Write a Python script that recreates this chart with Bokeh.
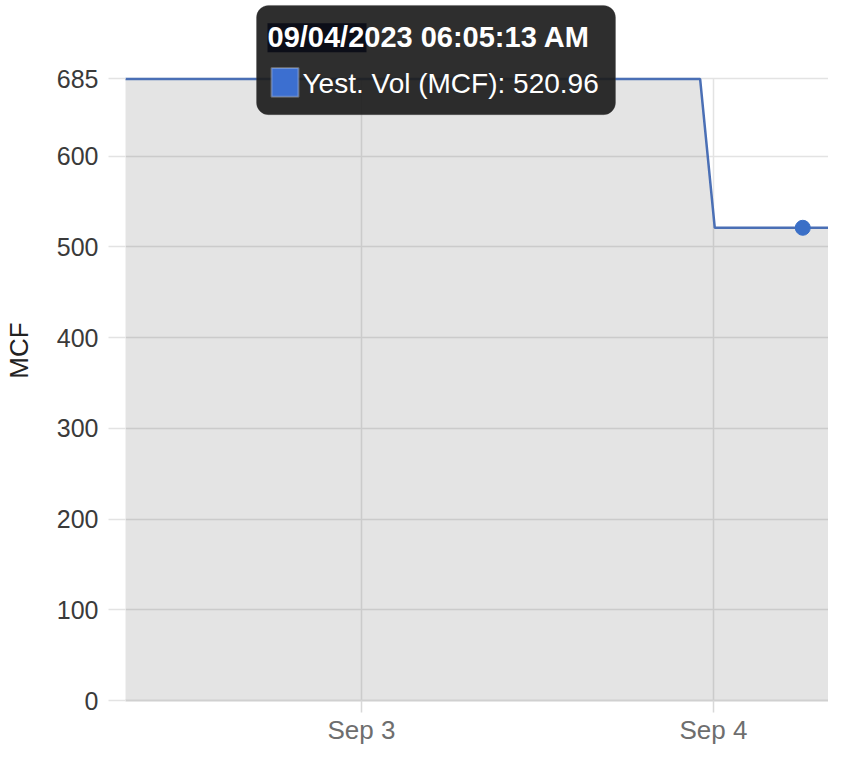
from datetime import datetime, timedelta
from bokeh.plotting import figure
from bokeh.models import Range1d, FixedTicker, DatetimeTickFormatter, BoxAnnotation, Label
from bokeh.embed import file_html
from bokeh.resources import INLINE

# ---- data ----
times = [
    datetime(2023, 9, 2, 6, 5, 13),
    datetime(2023, 9, 3, 6, 5, 13),
    datetime(2023, 9, 3, 23, 5, 13),
    datetime(2023, 9, 4, 0, 5, 13),
    datetime(2023, 9, 4, 6, 5, 13),
    datetime(2023, 9, 4, 10, 5, 13),
]
volumes = [685.0, 685.0, 685.0, 520.96, 520.96, 520.96]
hover_time = datetime(2023, 9, 4, 6, 5, 13)
hover_value = 520.96
y_ticks = [0, 100, 200, 300, 400, 500, 600, 685]
x_tick_dates = [datetime(2023, 9, 3), datetime(2023, 9, 4)]
tooltip_title = "09/04/2023 06:05:13 AM"
tooltip_series = "Yest. Vol (MCF)"

# ---- layout ----
W, H = 828, 747
left_b = 125
px_per_day = 352.0
ppu = (705 - 79) / 685.0
frame_w = W - left_b
bottom_b = H - 705
x0 = datetime(2023, 9, 3) - timedelta(days=(361 - 125) / px_per_day)
x1 = x0 + timedelta(days=frame_w / px_per_day)
y0 = 0
ytop = 705 / ppu

def ms(d):
    return (d - datetime(1970, 1, 1)).total_seconds() * 1000.0

p = figure(width=W, height=H, output_backend="svg", toolbar_location=None,
           x_axis_type="datetime",
           x_range=Range1d(x0, x1), y_range=Range1d(y0, ytop),
           min_border_left=left_b, min_border_top=0,
           min_border_right=0, min_border_bottom=bottom_b)
p.outline_line_color = None
p.background_fill_color = "white"
p.border_fill_color = "white"

p.varea(x=times, y1=[0] * len(times), y2=volumes, fill_color="#000000", fill_alpha=0.105)
# vertical grid lines only up to the top tick
p.segment(x0=x_tick_dates, x1=x_tick_dates, y0=[y_ticks[0]] * 2, y1=[y_ticks[-1]] * 2,
          line_color="#e3e3e3", line_width=1.5, level="underlay")
p.line(x=times, y=volumes, line_color="#4a6fb5", line_width=2.5)
p.scatter(x=[hover_time], y=[hover_value], size=15, fill_color="#3a6fc7", line_color="#3a6fc7")

p.xgrid.grid_line_color = None
p.ygrid.ticker = FixedTicker(ticks=y_ticks)
p.ygrid.grid_line_color = "#e3e3e3"
p.ygrid.grid_line_width = 1.5

ya = p.yaxis[0]
ya.ticker = FixedTicker(ticks=y_ticks)
ya.axis_line_color = None
ya.major_tick_line_color = "#e3e3e3"
ya.major_tick_line_width = 1.5
ya.major_tick_out = 17
ya.major_tick_in = 0
ya.minor_tick_line_color = None
ya.major_label_standoff = 10
ya.major_label_text_font = "Liberation Sans"
ya.major_label_text_font_size = "25px"
ya.major_label_text_color = "#3a3a3a"
ya.axis_label = "MCF"
ya.axis_label_text_font = "Liberation Sans"
ya.axis_label_text_font_size = "26px"
ya.axis_label_text_font_style = "normal"
ya.axis_label_text_color = "#222222"
ya.axis_label_standoff = 20

xa = p.xaxis[0]
xa.ticker = FixedTicker(ticks=[ms(d) for d in x_tick_dates])
xa.formatter = DatetimeTickFormatter(days="%b %-d", months="%b %-d", hours="%b %-d")
xa.axis_line_color = "#d0d0d0"
xa.axis_line_width = 2
xa.major_tick_line_color = "#d8d8d8"
xa.major_tick_line_width = 1.5
xa.major_tick_out = 12
xa.major_tick_in = 0
xa.minor_tick_line_color = None
xa.major_label_standoff = 2
xa.major_label_text_font = "Liberation Sans"
xa.major_label_text_font_size = "26px"
xa.major_label_text_color = "#6e6e6e"

def dx(px):
    return ms(x0) + (px - 125) / px_per_day * 86400000.0

def dy(py):
    return (705 - py) / ppu

box = BoxAnnotation(left=dx(256), right=dx(615), top=dy(5), bottom=dy(115),
                    fill_color="#1c1c1c", fill_alpha=0.92,
                    line_color="#444444", line_width=1, border_radius=12,
                    level="overlay")
p.add_layout(box)
hl = BoxAnnotation(left=dx(267), right=dx(366), top=dy(23), bottom=dy(52),
                   fill_color="#0c0e18", fill_alpha=1.0, line_color=None, level="overlay")
p.add_layout(hl)
sq = BoxAnnotation(left=dx(271), right=dx(298), top=dy(68), bottom=dy(97),
                   fill_color="#3c6fd0", fill_alpha=1.0,
                   line_color="#e8e8e8", line_width=2, level="overlay")
p.add_layout(sq)
t1 = Label(x=dx(267), y=dy(37), text=tooltip_title, text_color="white",
           text_font="Liberation Sans", text_font_size="29px", text_font_style="bold",
           text_baseline="middle", text_align="left", level="overlay")
t2 = Label(x=dx(302), y=dy(84), text=f"{tooltip_series}: {hover_value:.2f}", text_color="white",
           text_font="Liberation Sans", text_font_size="28px",
           text_baseline="middle", text_align="left", level="overlay")
p.add_layout(t1)
p.add_layout(t2)

open("out.html", "w").write(file_html(p, INLINE))
